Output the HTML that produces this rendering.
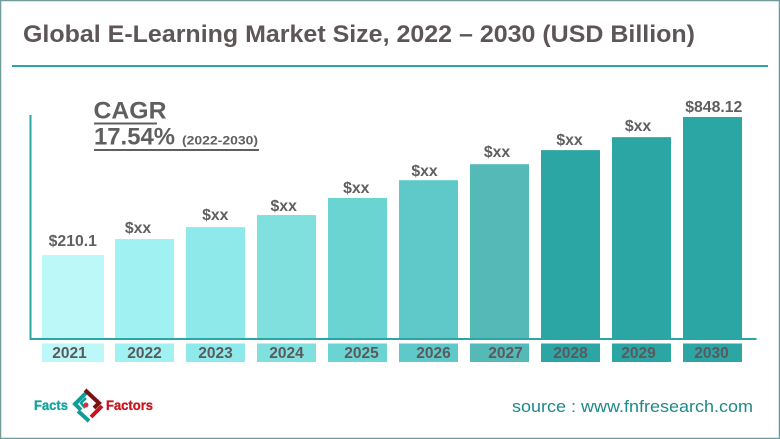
<!DOCTYPE html>
<html lang="en">
<head>
<meta charset="utf-8">
<title>Global E-Learning Market Size</title>
<style>
html,body{margin:0;padding:0;background:#fff;}
body{width:780px;height:439px;overflow:hidden;}
svg{display:block;font-family:"Liberation Sans",Arial,sans-serif;}
</style>
</head>
<body>
<svg id="chart" width="780" height="439" viewBox="0 0 780 439" xmlns="http://www.w3.org/2000/svg">
  <rect x="0" y="0" width="780" height="439" fill="#fff"/>
  <rect x="0.5" y="0.5" width="779" height="438" fill="none" stroke="#6f9c9a" stroke-width="1.5"/>
  <text x="23" y="42" font-size="24" font-weight="700" fill="#5e5656" textLength="672" lengthAdjust="spacingAndGlyphs">Global E-Learning Market Size, 2022 – 2030 (USD Billion)</text>
  <rect x="12" y="65" width="756" height="2" fill="#2ca5a5"/>

  <g id="bars"></g>
  <g id="value-labels"></g>
  <g id="year-labels"></g>

  <rect x="29.5" y="115" width="2" height="225" fill="#2ca5a5"/>
  <rect x="29.5" y="338" width="727" height="2" fill="#2ca5a5"/>

  <g>
    <text x="93.5" y="118.5" font-size="24" font-weight="700" fill="#5f5f5f" textLength="73" lengthAdjust="spacingAndGlyphs">CAGR</text>
    <rect x="94" y="122.5" width="63" height="2" fill="#5f5f5f"/>
    <text x="94" y="144.5" font-size="24" font-weight="700" fill="#5f5f5f" textLength="81" lengthAdjust="spacingAndGlyphs">17.54%</text>
    <text x="182" y="144.5" font-size="12" font-weight="700" fill="#5f5f5f" textLength="76" lengthAdjust="spacingAndGlyphs">(2022-2030)</text>
    <rect x="94" y="149" width="165" height="2" fill="#5f5f5f"/>
  </g>

  <g>
    <text x="34" y="410" font-size="13.5" font-weight="700" fill="#12a3a0" stroke="#12a3a0" stroke-width="0.3" textLength="34" lengthAdjust="spacingAndGlyphs">Facts</text>
    <g fill="none" stroke-linecap="butt">
      <path d="M88 391 L75 404 L81 410" stroke="#109c98" stroke-width="4"/>
      <path d="M86 398 L81 403 L85 408" stroke="#109c98" stroke-width="2.5"/>
      <path d="M78 411 L89 421" stroke="#109c98" stroke-width="4"/>
      <path d="M85 390 L99 403 L94 408" stroke="#7c1010" stroke-width="4"/>
      <path d="M102 406 L91 417" stroke="#c8141e" stroke-width="4"/>
      <circle cx="86" cy="405" r="2.5" fill="#d2303a" stroke="none"/>
    </g>
    <text x="106" y="410" font-size="13.5" font-weight="700" fill="#c8141e" stroke="#c8141e" stroke-width="0.3" textLength="47" lengthAdjust="spacingAndGlyphs">Factors</text>
  </g>

  <text x="512" y="412" font-size="16.5" fill="#1d8a88" textLength="241" lengthAdjust="spacingAndGlyphs">source : www.fnfresearch.com</text>
</svg>

<script>
// Chart data
var categories = ["2021","2022","2023","2024","2025","2026","2027","2028","2029","2030"];
var seriesValues = [210.1,284,339,395,474,556,630,695,755,848.12];
var printedValues = ["$210.1","$xx","$xx","$xx","$xx","$xx","$xx","$xx","$xx","$848.12"];

// Presentation
var barColors = ["#bdf8f8","#a0f2f2","#8eeaea","#80e0de","#6ad4d2","#5fc8c8","#55b9b8","#2ca5a5","#2ca5a5","#2ca5a5"];
var labelBandColors = ["#bdf8f8","#a0f2f2","#8eeaea","#80e0de","#6ad4d2","#5fc8c8","#55b9b8","#2ca5a5","#2ca5a5","#2ca5a5"];
var yearNudge = [-4,0,0,0,4,5,6,0,-3,-1];
var valueNudgeX = [-0.7,-6.5,-0.2,-2.8,-1.2,-4,-2.5,-1,-3.5,1.3];
var valueGapY = [9,6,7,4,5,4,7,5,6,5];

var SVG_NS = "http://www.w3.org/2000/svg";
var plot = {left:38, step:71, barWidth:59, baseY:339, topY:117};
var domain = {min:-178, max:848.12};

function xBand(i){ return plot.left + plot.step * i + 6; }
function yScale(v){ return plot.baseY - (v - domain.min) / (domain.max - domain.min) * (plot.baseY - plot.topY); }
function svgEl(tag){ return document.createElementNS(SVG_NS, tag); }

var barsGroup = document.getElementById("bars");
var valueGroup = document.getElementById("value-labels");
var yearGroup = document.getElementById("year-labels");

categories.forEach(function(cat, i){
  var x = xBand(i);
  var w = plot.barWidth;
  if (i === 0) { x = 42; w = 62; }
  var top = yScale(seriesValues[i]);
  var cx = xBand(i) + plot.barWidth / 2;

  var bar = svgEl("rect");
  
  
  bar.setAttribute("x", x);
  bar.setAttribute("y", top);
  bar.setAttribute("width", w);
  bar.setAttribute("height", plot.baseY - top);
  bar.setAttribute("fill", barColors[i]);
  barsGroup.appendChild(bar);

  var val = svgEl("text");
  
  
  val.setAttribute("x", cx + valueNudgeX[i]);
  val.setAttribute("y", top - valueGapY[i]);
  val.setAttribute("text-anchor", "middle");
  val.setAttribute("font-size", "15.8");
  val.setAttribute("font-weight", "700");
  val.setAttribute("fill", "#5f5f5f");
  val.textContent = printedValues[i];
  valueGroup.appendChild(val);

  var band = svgEl("rect");
  
  
  band.setAttribute("x", x);
  band.setAttribute("y", 343.5);
  band.setAttribute("width", w);
  band.setAttribute("height", 18.5);
  band.setAttribute("fill", labelBandColors[i]);
  yearGroup.appendChild(band);

  var yr = svgEl("text");
  
  
  yr.setAttribute("x", cx + yearNudge[i]);
  yr.setAttribute("y", 358);
  yr.setAttribute("text-anchor", "middle");
  yr.setAttribute("font-size", "15.5");
  yr.setAttribute("font-weight", "700");
  yr.setAttribute("fill", "#5a5a5e");
  yr.textContent = cat;
  yearGroup.appendChild(yr);
});
</script>
</body>
</html>
